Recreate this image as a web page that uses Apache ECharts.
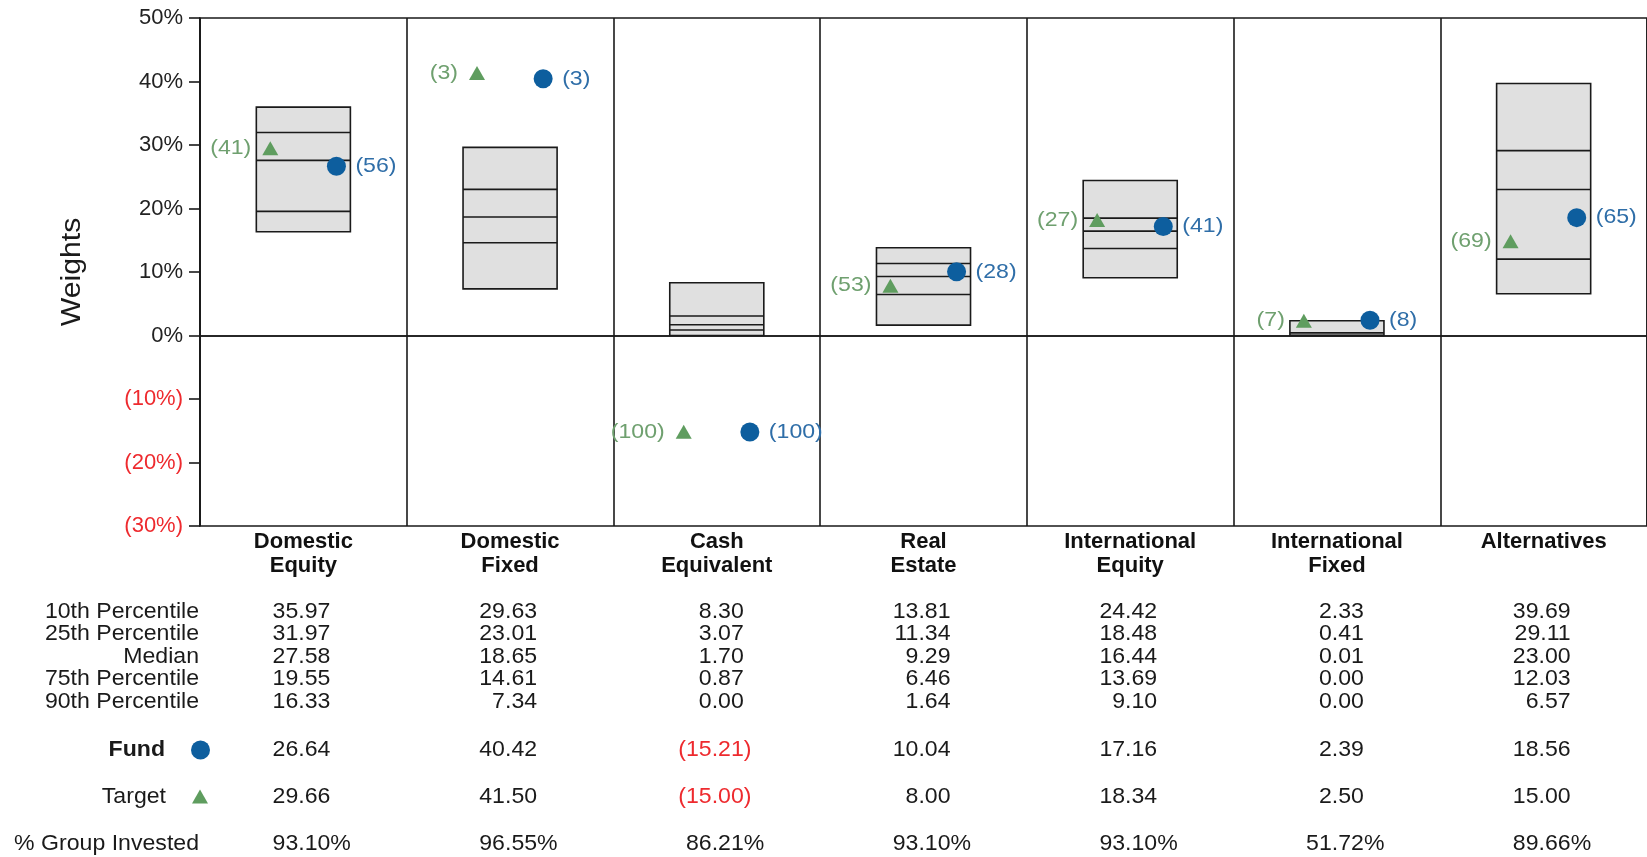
<!DOCTYPE html>
<html>
<head>
<meta charset="utf-8">
<title>Asset Allocation Weights</title>
<script src="https://cdn.jsdelivr.net/npm/echarts@6/dist/echarts.min.js"></script>
<style>
  html, body { margin: 0; padding: 0; background: #ffffff; }
  #chart { width: 1647px; height: 857px; }
</style>
</head>
<body>
<div id="chart"></div>
<script>
// ---- data ---------------------------------------------------------------
const categories = ['Domestic\nEquity', 'Domestic\nFixed', 'Cash\nEquivalent', 'Real\nEstate',
                    'International\nEquity', 'International\nFixed', 'Alternatives'];
const pct10  = [35.97, 29.63, 8.30, 13.81, 24.42, 2.33, 39.69];
const pct25  = [31.97, 23.01, 3.07, 11.34, 18.48, 0.41, 29.11];
const median = [27.58, 18.65, 1.70,  9.29, 16.44, 0.01, 23.00];
const pct75  = [19.55, 14.61, 0.87,  6.46, 13.69, 0.00, 12.03];
const pct90  = [16.33,  7.34, 0.00,  1.64,  9.10, 0.00,  6.57];
const fund   = [26.64, 40.42, -15.21, 10.04, 17.16, 2.39, 18.56];
const target = [29.66, 41.50, -15.00,  8.00, 18.34, 2.50, 15.00];
const fundRank   = [56, 3, 100, 28, 41, 8, 65];
const targetRank = [41, 3, 100, 53, 27, 7, 69];
const groupInvested = [93.10, 96.55, 86.21, 93.10, 93.10, 51.72, 89.66];
const rowLabels = ['10th Percentile', '25th Percentile', 'Median', '75th Percentile', '90th Percentile'];
const yMin = -30, yMax = 50, yStep = 10;

// ---- styling ------------------------------------------------------------
const FONT = "'Liberation Sans', Arial, Helvetica, sans-serif";
const INK = '#1a1a1a';
const RED = '#ee2a2e';
const FUND_COLOR = '#0d5e9e';
const FUND_LABEL = '#2f6ea8';
const TARGET_COLOR = '#5f9d5f';
const TARGET_LABEL = '#6fa06f';
const BOX_FILL = '#e0e0e0';
const TEXT_SCALE = 1.05;     // slightly wide lettering

const GRID = { left: 200, right: -9, top: 18, bottom: 331 };
const CHART_H = 857;
const AXIS_BOTTOM = CHART_H - GRID.bottom;           // pixel y of the lowest tick
const ROW_OFFSETS = [85.5, 108, 130.5, 153, 175.5];  // percentile rows under the axis
const FUND_OFFSET = 224, TARGET_OFFSET = 270.5, GROUP_OFFSET = 317.5;
const MARKER_SHIFT = 0.16;   // share of a column between centre and marker
const BOX_SHARE = 0.455;     // box width as share of a column
const NUM_SHIFT = 27;        // right edge of table digits from column centre

function fmt(v) { return v.toFixed(2); }

// text anchored at (x, y); the horizontal scale keeps the anchor fixed
function textEl(x, y, text, align, opts) {
  opts = opts || {};
  return {
    type: 'text',
    x: x, y: y,
    scaleX: opts.scaleX || TEXT_SCALE,
    rotation: opts.rotation || 0,
    style: {
      x: 0, y: 0, text: text,
      align: align, textAlign: align,
      verticalAlign: 'middle', textVerticalAlign: 'middle',
      fill: opts.fill || '#1a1a1a',
      font: (opts.weight || 'normal') + ' ' + (opts.size || 22) + 'px ' + FONT
    }
  };
}

// number right-aligned on its digits, with ")" or "%" hanging past the edge
function numberCell(x, y, value, suffixPct) {
  const out = [];
  if (suffixPct) {
    out.push(textEl(x, y, fmt(value), 'right'));
    out.push(textEl(x, y, '%', 'left'));
  } else if (value < 0) {
    out.push(textEl(x, y, '(' + fmt(-value), 'right', { fill: RED }));
    out.push(textEl(x, y, ')', 'left', { fill: RED }));
  } else {
    out.push(textEl(x, y, fmt(value), 'right'));
  }
  return out;
}

// ---- render functions ---------------------------------------------------
function renderBox(params, api) {
  const i = api.value(0);
  const cx = api.coord([i, 0])[0];
  const w = api.size([1, 0])[0] * BOX_SHARE;
  const yTop = api.coord([i, api.value(1)])[1];
  const y25 = api.coord([i, api.value(2)])[1];
  const yMed = api.coord([i, api.value(3)])[1];
  const y75 = api.coord([i, api.value(4)])[1];
  const yBot = api.coord([i, api.value(5)])[1];
  const stroke = { stroke: INK, lineWidth: 1.6 };
  const hline = y => ({
    type: 'line',
    shape: { x1: cx - w / 2, y1: y, x2: cx + w / 2, y2: y },
    style: stroke
  });
  return {
    type: 'group',
    children: [
      { type: 'rect', shape: { x: cx - w / 2, y: yTop, width: w, height: yBot - yTop },
        style: { fill: BOX_FILL, stroke: INK, lineWidth: 1.6 } },
      hline(y25), hline(yMed), hline(y75)
    ]
  };
}

function makeMarkerRenderer(kind) {
  return function (params, api) {
    const i = api.value(0);
    const v = api.value(1);
    const rank = api.value(2);
    const pt = api.coord([i, v]);
    const dir = kind === 'fund' ? 1 : -1;
    const x = pt[0] + dir * api.size([1, 0])[0] * MARKER_SHIFT;
    const y = pt[1];
    const children = [];
    if (kind === 'fund') {
      children.push({ type: 'circle', shape: { cx: x, cy: y, r: 9.5 }, style: { fill: FUND_COLOR } });
      children.push(textEl(x + 19, y, '(' + rank + ')', 'left', { fill: FUND_LABEL, size: 21, scaleX: 1.1 }));
    } else {
      children.push({ type: 'polygon', shape: { points: [[x, y - 6], [x + 8, y + 8], [x - 8, y + 8]] },
                      style: { fill: TARGET_COLOR } });
      children.push(textEl(x - 19, y + 1, '(' + rank + ')', 'right', { fill: TARGET_LABEL, size: 21, scaleX: 1.1 }));
    }
    return { type: 'group', children: children };
  };
}

function renderTable(params, api) {
  const i = api.value(0);
  const x = api.coord([i, 0])[0] + NUM_SHIFT;
  const base = api.coord([i, yMin])[1];
  const cols = [pct10, pct25, median, pct75, pct90];
  let children = [];
  cols.forEach((arr, r) => {
    children = children.concat(numberCell(x, base + ROW_OFFSETS[r], arr[i], false));
  });
  children = children.concat(numberCell(x, base + FUND_OFFSET, fund[i], false));
  children = children.concat(numberCell(x, base + TARGET_OFFSET, target[i], false));
  children = children.concat(numberCell(x, base + GROUP_OFFSET, groupInvested[i], true));
  return { type: 'group', children: children };
}

// ---- static row headings ------------------------------------------------
const graphics = [];
rowLabels.forEach((t, r) => {
  graphics.push(textEl(199, AXIS_BOTTOM + ROW_OFFSETS[r], t, 'right'));
});
graphics.push(textEl(165, AXIS_BOTTOM + FUND_OFFSET, 'Fund', 'right', { weight: 'bold' }));
graphics.push({ type: 'circle', shape: { cx: 200.5, cy: AXIS_BOTTOM + FUND_OFFSET, r: 9.5 }, style: { fill: FUND_COLOR } });
graphics.push(textEl(166, AXIS_BOTTOM + TARGET_OFFSET, 'Target', 'right'));
graphics.push({ type: 'polygon',
  shape: { points: [[200, AXIS_BOTTOM + TARGET_OFFSET - 7], [208, AXIS_BOTTOM + TARGET_OFFSET + 7], [192, AXIS_BOTTOM + TARGET_OFFSET + 7]] },
  style: { fill: TARGET_COLOR } });
graphics.push(textEl(199, AXIS_BOTTOM + GROUP_OFFSET, '% Group Invested', 'right'));
graphics.push(textEl(73, GRID.top + (AXIS_BOTTOM - GRID.top) / 2, 'Weights', 'center',
  { size: 27, scaleX: 1.12, rotation: Math.PI / 2 }));

// ---- chart --------------------------------------------------------------
const chart = echarts.init(document.getElementById('chart'), null, { renderer: 'canvas' });
chart.setOption({
  animation: false,
  backgroundColor: '#ffffff',
  textStyle: { fontFamily: FONT },
  grid: Object.assign({ show: true, borderColor: INK, borderWidth: 1.6, containLabel: false }, GRID),
  xAxis: {
    type: 'category',
    data: categories,
    boundaryGap: true,
    axisLine: { show: true, lineStyle: { color: INK, width: 1.6 } },
    axisTick: { show: false },
    splitLine: { show: true, interval: 0, lineStyle: { color: INK, width: 1.6 } },
    axisLabel: {
      interval: 0, margin: 4, color: '#111', fontFamily: FONT,
      fontSize: 22, fontWeight: 'bold', lineHeight: 24
    }
  },
  yAxis: {
    type: 'value',
    min: yMin, max: yMax, interval: yStep,
    axisLine: { show: true, lineStyle: { color: INK, width: 1.6 } },
    axisTick: { show: true, inside: false, length: 11, lineStyle: { color: INK, width: 1.6 } },
    splitLine: { show: false },
    axisLabel: {
      margin: 17,
      formatter: v => v < 0 ? '{neg|(' + (-v) + '%)}' : '{pos|' + v + '%}',
      rich: {
        neg: { color: RED, fontSize: 22, fontFamily: FONT },
        pos: { color: '#222', fontSize: 22, fontFamily: FONT }
      }
    }
  },
  graphic: graphics,
  series: [
    {
      type: 'custom',
      name: 'Percentile range',
      renderItem: renderBox,
      encode: { x: 0, y: [1, 2, 3, 4, 5] },
      data: categories.map((c, i) => [i, pct10[i], pct25[i], median[i], pct75[i], pct90[i]]),
      z: 2,
      silent: true,
      markLine: {
        silent: true,
        symbol: ['none', 'none'],
        label: { show: false },
        lineStyle: { color: INK, width: 1.6, type: 'solid' },
        data: [{ yAxis: 0 }]
      }
    },
    {
      type: 'custom',
      name: 'Target',
      renderItem: makeMarkerRenderer('target'),
      encode: { x: 0, y: 1 },
      data: categories.map((c, i) => [i, target[i], targetRank[i]]),
      z: 4, clip: false, silent: true
    },
    {
      type: 'custom',
      name: 'Fund',
      renderItem: makeMarkerRenderer('fund'),
      encode: { x: 0, y: 1 },
      data: categories.map((c, i) => [i, fund[i], fundRank[i]]),
      z: 5, clip: false, silent: true
    },
    {
      type: 'custom',
      name: 'Table',
      renderItem: renderTable,
      encode: { x: 0, y: 1 },
      data: categories.map((c, i) => [i, 0]),
      z: 3, clip: false, silent: true
    }
  ]
});
</script>
</body>
</html>
